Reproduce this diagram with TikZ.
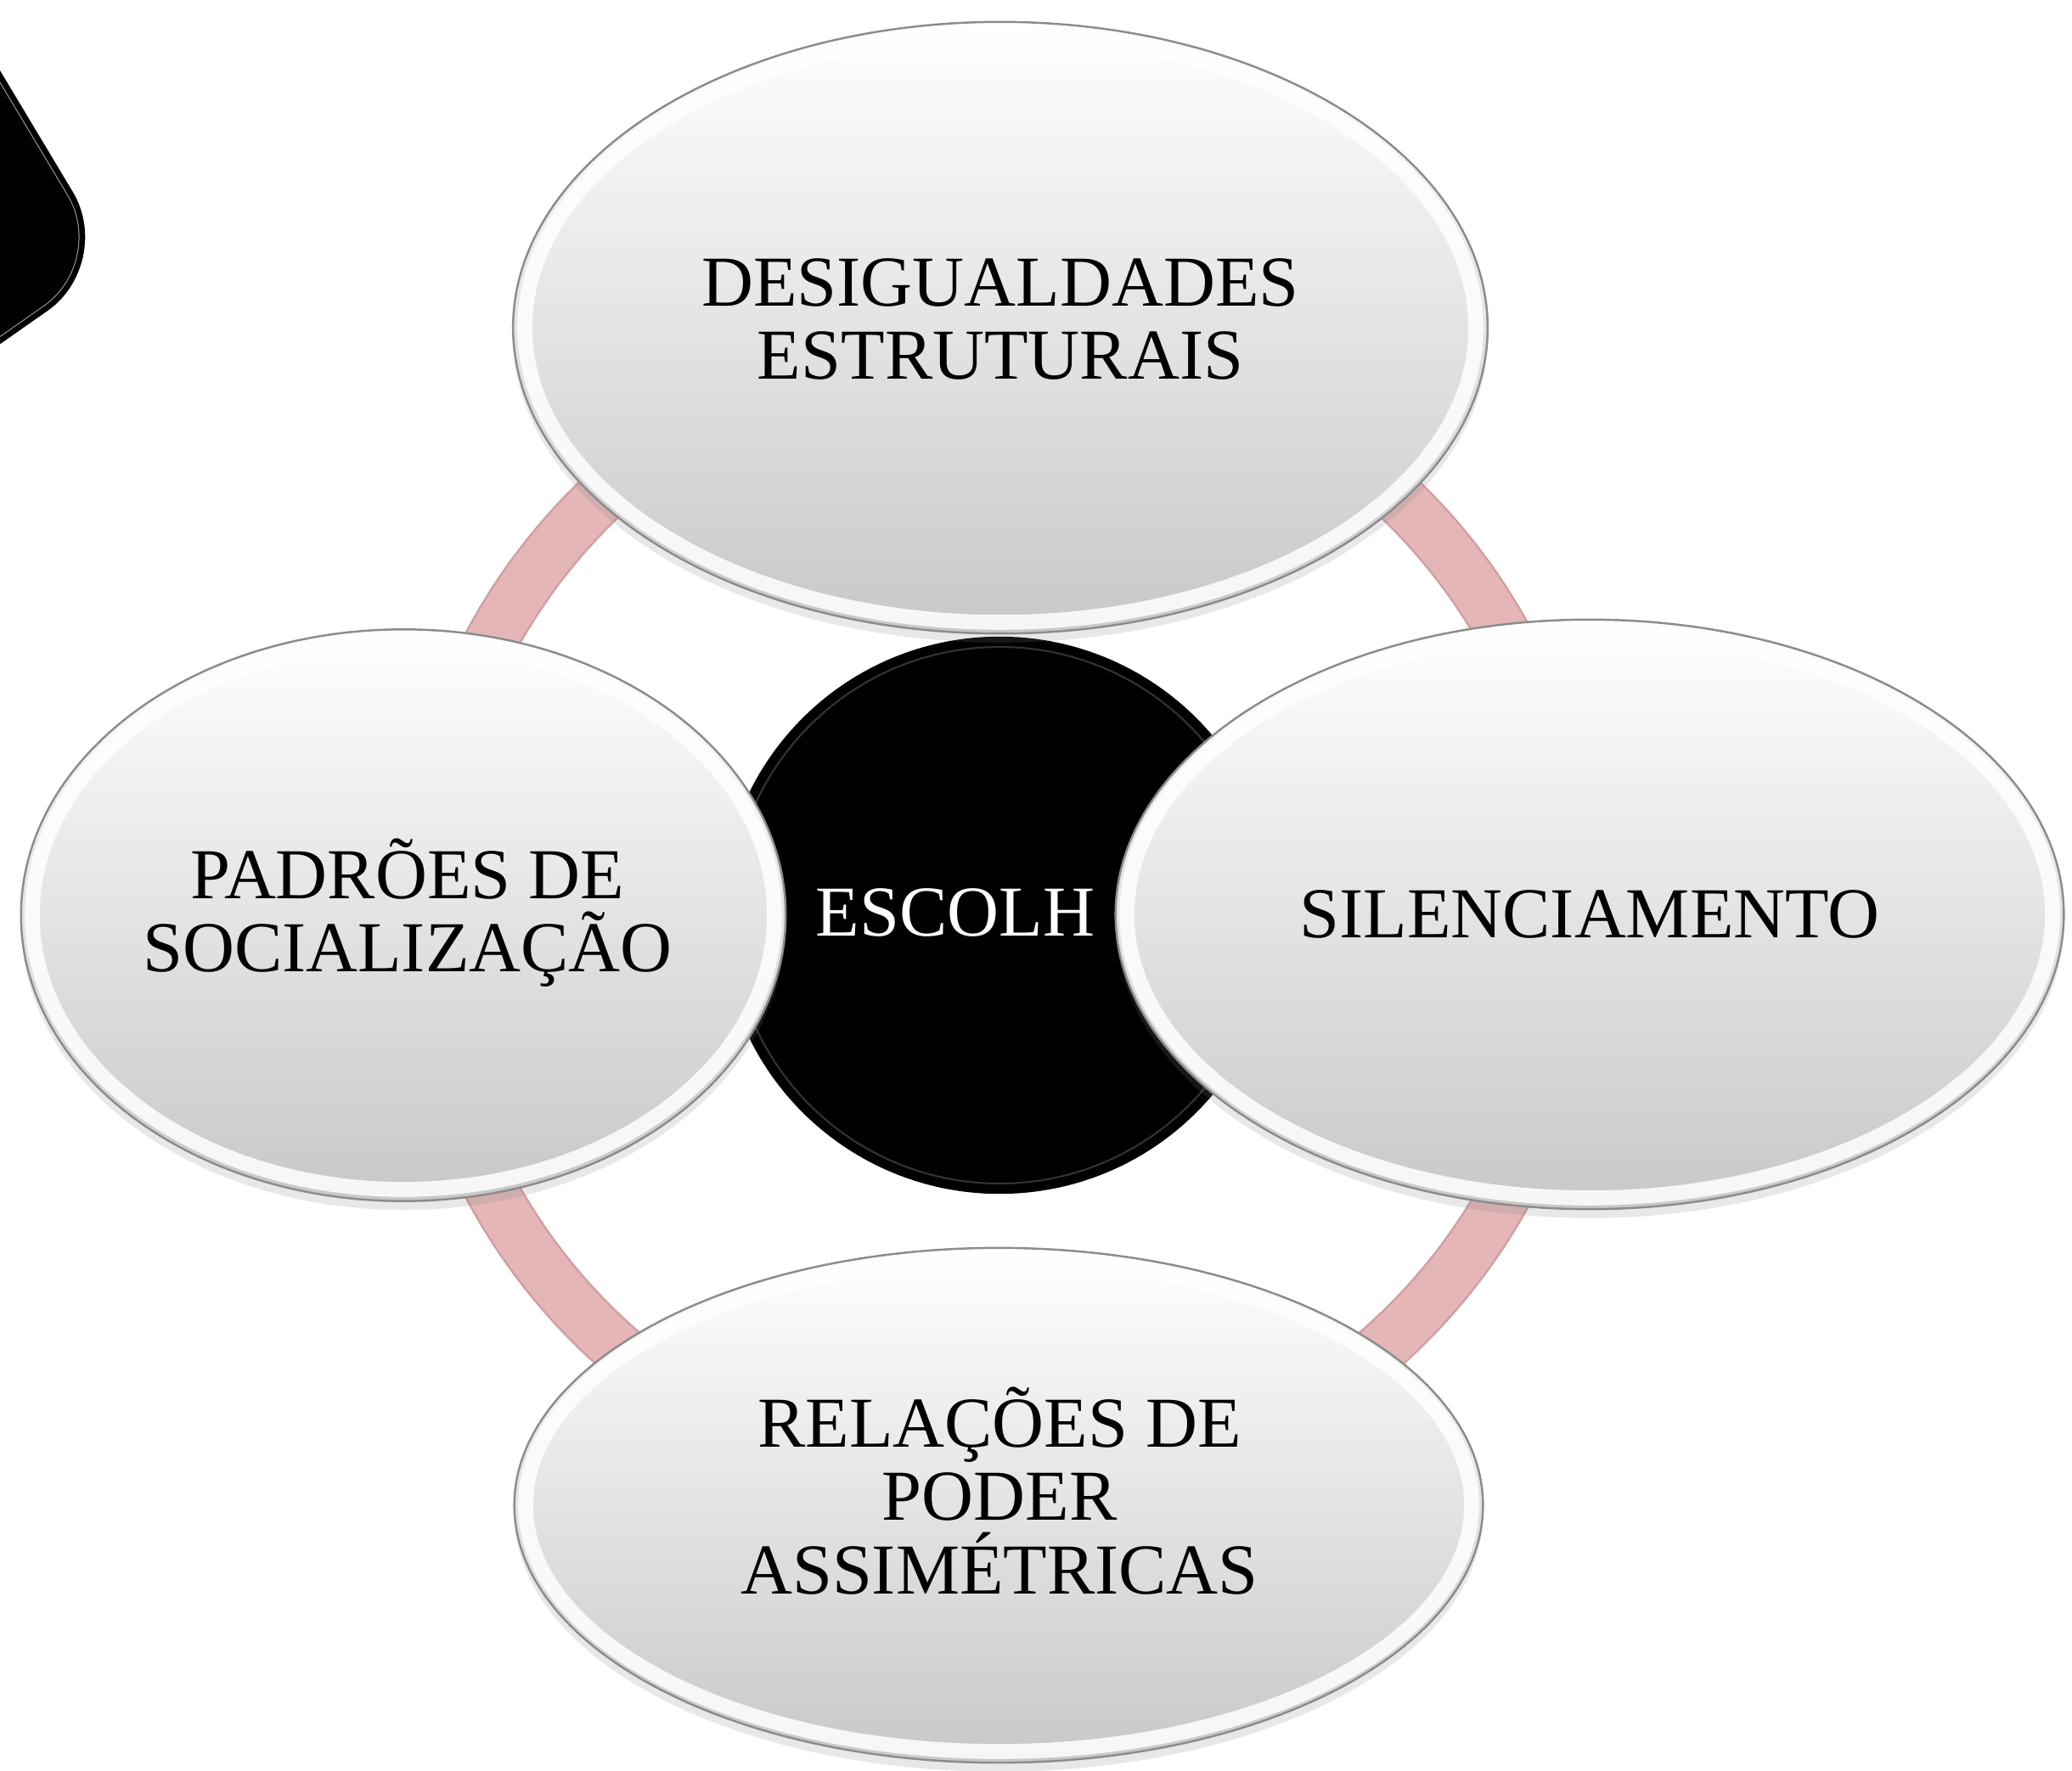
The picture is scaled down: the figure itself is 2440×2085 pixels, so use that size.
\documentclass[tikz,border=0pt]{standalone}
\usepackage{fontspec}
\setmainfont{Liberation Serif}
\usetikzlibrary{shapes.geometric,shadows}
\definecolor{ringpink}{RGB}{228,182,184}
\definecolor{ringedge}{RGB}{210,158,161}
\definecolor{ellbot}{RGB}{200,200,200}
\definecolor{elledge}{RGB}{140,140,140}
\begin{document}
\begin{tikzpicture}[x=0.01cm,y=-0.01cm,
  bubble/.style={ellipse, draw=elledge, line width=0.7pt, top color=white, bottom color=ellbot,
    inner sep=0pt,
    drop shadow={opacity=0.18, shadow xshift=0pt, shadow yshift=-3pt}},
  rim/.style={white, line width=5pt, opacity=0.85},
  labeltext/.style={font=\fontsize{24}{24.5}\selectfont, align=center, inner sep=0pt}]
\useasboundingbox (0,0) rectangle (2440,2085);
\clip (0,0) rectangle (2440,2085);

% partly visible black shape at top left
\begin{scope}
  \clip[rounded corners=0.98cm] (-200,-250) -- (136,310) -- (-200,545) -- cycle;
  \fill[black] (-200,-250) rectangle (300,600);
  \draw[gray!70, line width=0.15cm, rounded corners=0.98cm] (-200,-250) -- (136,310) -- (-200,545) -- cycle;
  \draw[black, line width=0.13cm, rounded corners=0.98cm] (-200,-250) -- (136,310) -- (-200,545) -- cycle;
\end{scope}

% ring
\draw[ringedge, line width=0.64cm] (1177,1078) circle[radius=680];
\draw[ringpink, line width=0.59cm] (1177,1078) circle[radius=680];

% central black circle
\node[circle, fill=black, minimum size=6.56cm, inner sep=0pt] (core) at (1177,1078) {};
\draw[black!80!white, line width=0.6pt] (core.center) circle[radius=316];
\node[labeltext, text=white, anchor=base west] (escolh) at (960,1102) {ESCOLH};

% surrounding ellipses
\node[bubble, minimum width=11.47cm, minimum height=7.2cm] (top) at (1178,386) {};
\draw[rim] (top.center) ellipse[x radius=560, y radius=347];
\node[labeltext] (toplabel) at (1178,376) {DESIGUALDADES\\ESTRUTURAIS};

\node[bubble, minimum width=11.4cm, minimum height=6.06cm] (bottom) at (1176,1773) {};
\draw[rim] (bottom.center) ellipse[x radius=557, y radius=290];
\node[labeltext] (bottomlabel) at (1177,1756) {RELAÇÕES DE\\PODER\\ASSIMÉTRICAS};

\node[bubble, minimum width=9.0cm, minimum height=6.73cm] (left) at (475,1078) {};
\draw[rim] (left.center) ellipse[x radius=437, y radius=323];
\node[labeltext] (leftlabel) at (480,1075) {PADRÕES DE\\SOCIALIZAÇÃO};

\node[bubble, minimum width=11.16cm, minimum height=6.94cm] (right) at (1872,1077) {};
\draw[rim] (right.center) ellipse[x radius=545, y radius=334];
\node[labeltext] (rightlabel) at (1872,1077) {SILENCIAMENTO};
\end{tikzpicture}
\end{document}
